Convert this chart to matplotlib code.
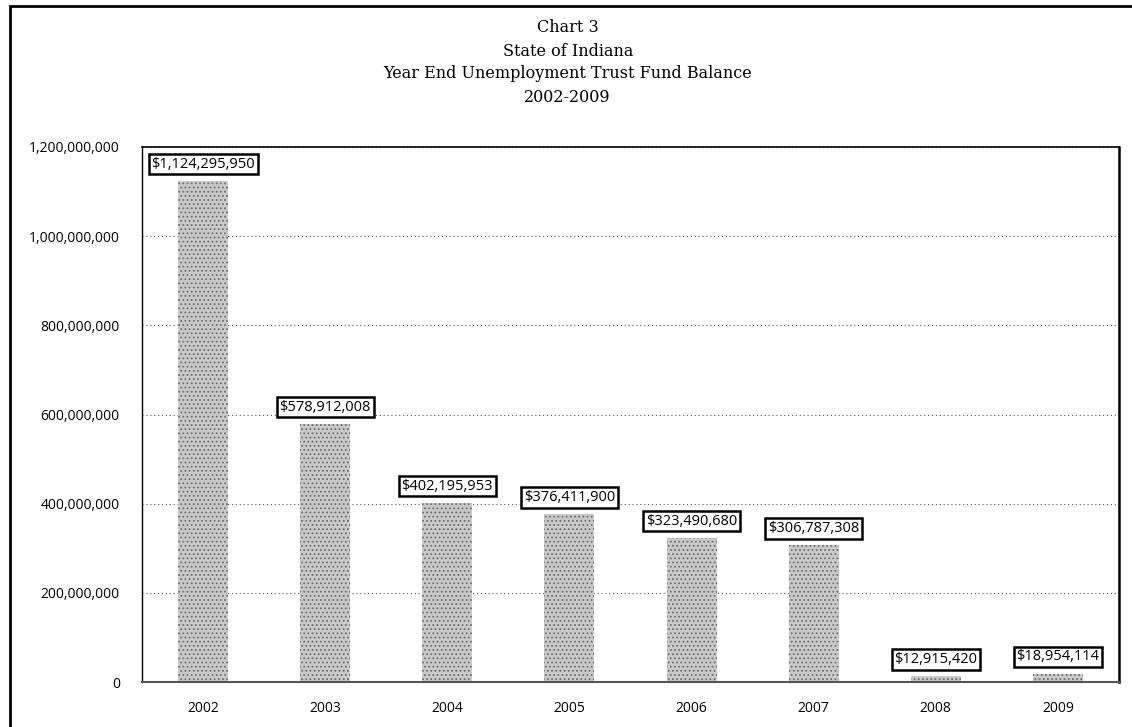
import matplotlib.pyplot as plt
from matplotlib.patches import Rectangle
from matplotlib.ticker import FuncFormatter

# year-end trust fund balances
years = ["2002", "2003", "2004", "2005", "2006", "2007", "2008", "2009"]
balances = [1124295950, 578912008, 402195953, 376411900,
            323490680, 306787308, 12915420, 18954114]
title_lines = ["Chart 3", "State of Indiana",
               "Year End Unemployment Trust Fund Balance", "2002-2009"]

plt.rcParams['hatch.linewidth'] = 0.8

fig = plt.figure(figsize=(11.32, 7.27), dpi=100)
ax = fig.add_axes([142 / 1132, 1 - 682 / 727, (1119 - 142) / 1132, (682 - 147) / 727])

# outer frame of the chart page
fig.add_artist(Rectangle((10 / 1132, -0.01), 1.2, 1 - 6 / 727 + 0.01,
                         transform=fig.transFigure, fill=False,
                         edgecolor='black', linewidth=2))

x = range(len(years))
ax.bar(x, balances, width=0.41, facecolor='#c9c9c9', hatch='....',
       edgecolor='#6e6e6e', linewidth=0, zorder=2)

for i, v in enumerate(balances):
    ax.annotate(f"${v:,.0f}", (i, v), xytext=(0, 12), textcoords='offset points',
                ha='center', va='center', fontsize=10.5, family='Open Sans',
                bbox=dict(boxstyle='square,pad=0.18', fc='white', ec='black', lw=1.8),
                zorder=5)

ax.set_xlim(-0.5, len(years) - 0.5)
ax.set_ylim(0, 1200000000)
ax.set_yticks(range(0, 1200000001, 200000000))
ax.yaxis.set_major_formatter(FuncFormatter(lambda v, p: f"{v:,.0f}"))
ax.set_xticks(list(x))
ax.set_xticklabels(years)
ax.tick_params(length=0, labelsize=10, pad=14)
ax.tick_params(axis='y', pad=16)
for lab in ax.get_xticklabels() + ax.get_yticklabels():
    lab.set_family('Open Sans')

ax.grid(axis='y', color='#555555', linestyle=(0, (1, 2.5)), linewidth=0.8, zorder=1)
ax.set_axisbelow(True)

ax.spines['left'].set_linewidth(1.0)
ax.spines['left'].set_linestyle((0, (2, 1)))
ax.spines['top'].set_linewidth(1.2)
ax.spines['right'].set_linewidth(1.8)
ax.spines['bottom'].set_color('#555555')
ax.spines['bottom'].set_linewidth(1.5)

for k, line in enumerate(title_lines):
    fig.text(0.5015, 1 - (28 + 23 * k) / 727, line, ha='center', va='center',
             fontsize=11.5, family='DejaVu Serif')

fig.savefig("out.png", dpi=100)
